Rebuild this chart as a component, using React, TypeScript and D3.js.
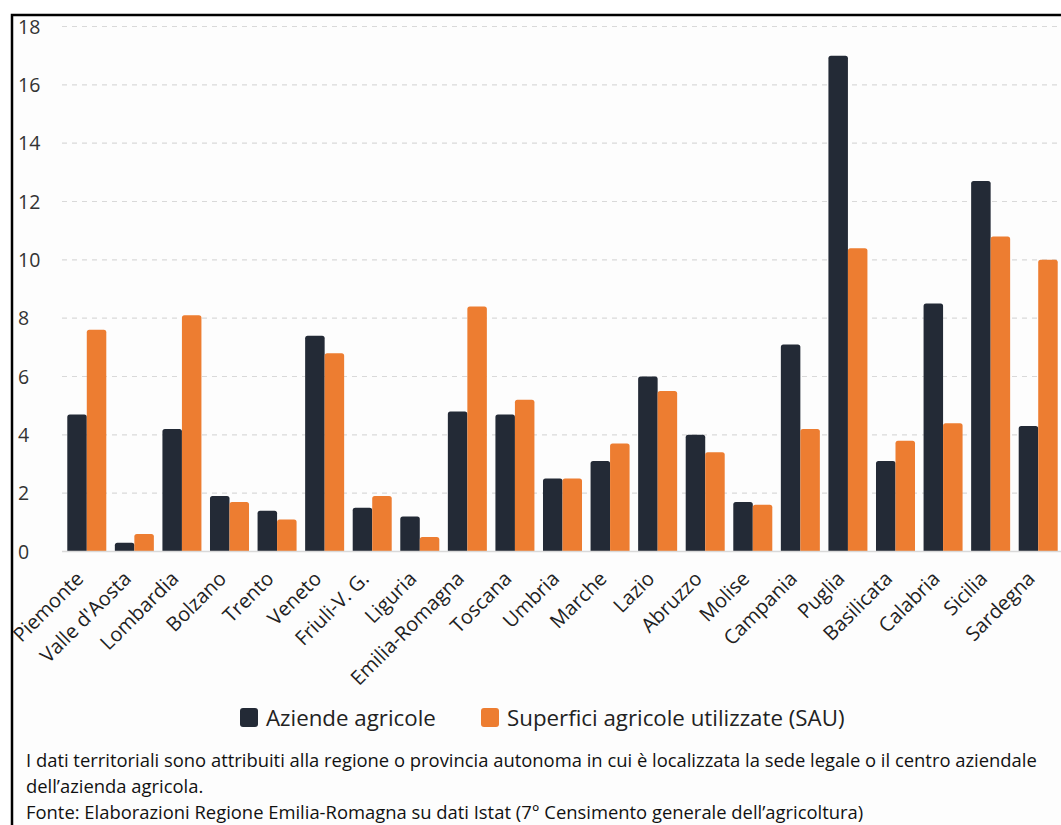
import { useRef, useEffect } from "react";
import * as d3 from "d3";

const regions = [
  "Piemonte", "Valle d'Aosta", "Lombardia", "Bolzano", "Trento", "Veneto",
  "Friuli-V. G.", "Liguria", "Emilia-Romagna", "Toscana", "Umbria", "Marche",
  "Lazio", "Abruzzo", "Molise", "Campania", "Puglia", "Basilicata",
  "Calabria", "Sicilia", "Sardegna",
];
const aziende = [4.7, 0.3, 4.2, 1.9, 1.4, 7.4, 1.5, 1.2, 4.8, 4.7, 2.5, 3.1, 6.0, 4.0, 1.7, 7.1, 17.0, 3.1, 8.5, 12.7, 4.3];
const sau = [7.6, 0.6, 8.1, 1.7, 1.1, 6.8, 1.9, 0.5, 8.4, 5.2, 2.5, 3.7, 5.5, 3.4, 1.6, 4.2, 10.4, 3.8, 4.4, 10.8, 10.0];
const yTicks = [0, 2, 4, 6, 8, 10, 12, 14, 16, 18];
const seriesNames = ["Aziende agricole", "Superfici agricole utilizzate (SAU)"];
const notes = [
  "I dati territoriali sono attribuiti alla regione o provincia autonoma in cui è localizzata la sede legale o il centro aziendale",
  "dell’azienda agricola.",
  "Fonte: Elaborazioni Regione Emilia-Romagna su dati Istat (7° Censimento generale dell’agricoltura)",
];

const colors = ["#232a36", "#ed7d31"];
const font = "'Open Sans', sans-serif";

export default function App() {
  const ref = useRef<SVGSVGElement>(null);

  useEffect(() => {
    const svg = d3.select(ref.current);
    svg.selectAll("*").remove();

    const width = 1061, height = 825;
    const x0 = 63, x1 = 1062;
    const y = d3.scaleLinear().domain([0, 18]).range([551.5, 26.5]);
    const x = d3.scaleBand().domain(regions).range([x0, x1]).paddingInner(0.18).paddingOuter(0.09);
    const xs = d3.scaleBand().domain(["a", "s"]).range([0, x.bandwidth()]);

    svg.append("rect").attr("width", width).attr("height", height).attr("fill", "#fff");
    svg.append("rect").attr("x", 12).attr("y", 15).attr("width", 1200).attr("height", 1000)
      .attr("fill", "#fdfdfd").attr("stroke", "#000").attr("stroke-width", 2.5);

    // grid
    svg.append("g").selectAll("line").data(yTicks.filter((d) => d > 0)).join("line")
      .attr("x1", 62).attr("x2", width).attr("y1", (d) => y(d)).attr("y2", (d) => y(d))
      .attr("stroke", "#d9d9d9").attr("stroke-width", 1.2).attr("stroke-dasharray", "5,5");

    svg.append("g").selectAll("text").data(yTicks).join("text")
      .attr("x", 18).attr("y", (d) => y(d)).attr("dy", "0.36em")
      .attr("font-family", font).attr("font-size", 19.5).attr("fill", "#333")
      .text((d) => d);

    // bars
    const series = [aziende, sau];
    series.forEach((vals, si) => {
      svg.append("g").selectAll("path").data(vals).join("path")
        .attr("fill", colors[si])
        .attr("d", (v, i) => {
          const bx = x(regions[i])! + xs(si === 0 ? "a" : "s")!;
          const w = xs.bandwidth();
          const top = y(v), bot = y(0);
          const r = Math.min(2.5, (bot - top) / 2);
          return `M${bx},${bot}V${top + r}Q${bx},${top} ${bx + r},${top}H${bx + w - r}Q${bx + w},${top} ${bx + w},${top + r}V${bot}Z`;
        });
    });

    svg.append("line").attr("x1", 62).attr("x2", width).attr("y1", y(0)).attr("y2", y(0))
      .attr("stroke", "#d9d9d9").attr("stroke-width", 1.5);

    // x labels
    svg.append("g").selectAll("text").data(regions).join("text")
      .attr("transform", (d) => `translate(${x(d)! + x.bandwidth() / 2 - 2},${580}) rotate(-45)`)
      .attr("text-anchor", "end")
      .attr("font-family", font).attr("font-size", 20).attr("fill", "#222")
      .text((d) => d);

    // legend
    const legendX = [240, 481];
    seriesNames.forEach((name, i) => {
      svg.append("rect").attr("x", legendX[i]).attr("y", 708).attr("width", 18).attr("height", 19)
        .attr("rx", 3).attr("fill", colors[i]);
      svg.append("text").attr("x", legendX[i] + 26).attr("y", 718).attr("dy", "0.36em")
        .attr("font-family", font).attr("font-size", 22.3).attr("fill", "#222").text(name);
    });

    // notes
    svg.append("g").selectAll("text").data(notes).join("text")
      .attr("x", 26).attr("y", (d, i) => 767 + i * 26)
      .attr("font-family", font).attr("font-size", 18.4).attr("fill", "#111")
      .text((d) => d);
  }, []);

  return (
    <svg ref={ref} width={1061} height={825}
      style={{ position: "absolute", left: 0, top: 0, display: "block" }} />
  );
}
